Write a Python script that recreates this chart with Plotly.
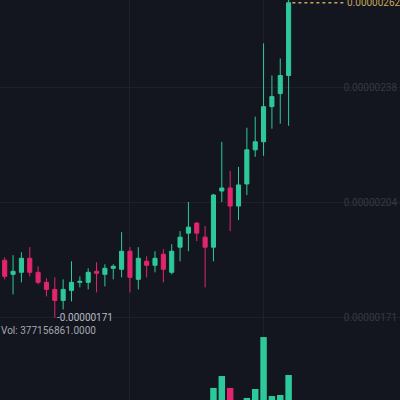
import plotly.graph_objects as go

# candle index (x positions)
idx = list(range(35))

# prices in units of 1e-8
open_ = [187.69, 183.61, 184.20, 188.27, 184.20, 181.28, 179.24, 176.04, 178.95, 181.28,
         181.28, 184.49, 183.61, 185.36, 185.07, 190.31, 182.16, 187.40, 186.23, 189.44,
         184.20, 191.48, 195.56, 198.47, 194.39, 191.48, 207.79, 208.66, 203.42, 209.83,
         219.73, 222.06, 232.26, 236.05, 241.29]
high = [188.56, 189.15, 190.02, 191.48, 185.94, 182.45, 182.74, 182.16, 187.40, 183.03,
        185.36, 187.11, 186.53, 186.53, 195.85, 191.48, 191.48, 188.86, 190.31, 190.89,
        192.35, 196.14, 204.59, 198.76, 197.60, 206.92, 222.06, 213.62, 214.78, 226.14,
        229.35, 250.61, 241.29, 246.24, 264.50]
low = [182.16, 177.79, 181.28, 183.03, 180.70, 177.20, 171.00, 173.42, 175.75, 179.83,
       179.24, 178.37, 180.12, 182.16, 182.74, 178.37, 179.24, 182.74, 184.20, 181.28,
       183.61, 187.40, 190.31, 193.23, 179.83, 187.40, 204.59, 196.14, 199.34, 206.63,
       217.69, 217.99, 225.85, 227.31, 226.70]
close = [183.03, 184.49, 188.27, 184.20, 181.28, 179.24, 176.04, 179.24, 181.28, 181.57,
         184.20, 183.90, 185.36, 185.94, 190.31, 182.74, 188.27, 186.23, 188.27, 185.07,
         190.31, 194.39, 197.30, 195.56, 191.48, 206.63, 208.66, 203.42, 209.54, 219.73,
         222.06, 232.26, 235.17, 241.29, 262.40]

# volumes
volume = [120e6, 95e6, 140e6, 110e6, 90e6, 105e6, 160e6, 130e6, 115e6, 70e6,
          100e6, 125e6, 85e6, 60e6, 175e6, 190e6, 150e6, 80e6, 95e6, 140e6,
          165e6, 150e6, 200e6, 120e6, 180e6, 302e6, 371e6, 302e6, 210e6, 244e6,
          296e6, 597e6, 255e6, 261e6, 377156861]

# price axis ticks
tick_vals = [171.1, 204.4, 237.7]
tick_text = ["0.00000171", "0.00000204", "0.00000238"]

S = 1e-8
o = [v * S for v in open_]
h = [v * S for v in high]
l = [v * S for v in low]
c = [v * S for v in close]

GREEN = "#2ec99a"
RED = "#e2266e"
BG = "#13161e"
GRID = "#1d212a"

vol_colors = [GREEN if cc >= oo else RED for oo, cc in zip(o, c)]

fig = go.Figure()
fig.add_trace(go.Bar(x=idx, y=volume, marker=dict(color=vol_colors, line=dict(width=0)),
                     yaxis="y2", showlegend=False, hoverinfo="skip"))
fig.add_trace(go.Candlestick(
    x=idx, open=o, high=h, low=l, close=c,
    increasing=dict(line=dict(color=GREEN, width=1), fillcolor=GREEN),
    decreasing=dict(line=dict(color=RED, width=1), fillcolor=RED),
    whiskerwidth=0, showlegend=False, hoverinfo="skip"))

low_i = min(range(len(l)), key=lambda i: l[i])
last = c[-1]

fig.update_layout(
    width=400, height=400,
    margin=dict(l=0, r=0, t=0, b=0),
    paper_bgcolor=BG, plot_bgcolor=BG,
    bargap=0.22,
    xaxis=dict(range=[-0.563, 47.34], showticklabels=False, tickvals=[15, 31],
               showgrid=True, gridcolor=GRID, gridwidth=1, zeroline=False,
               rangeslider=dict(visible=False), showline=False, ticks=""),
    yaxis=dict(range=[147.15 * S, 263.2 * S], side="right",
               tickvals=[v * S for v in tick_vals], ticktext=tick_text,
               ticklabelposition="inside", ticks="",
               tickfont=dict(family="Roboto", size=10, color="#353944"),
               showgrid=True, gridcolor=GRID, gridwidth=1, zeroline=False, showline=False),
    yaxis2=dict(range=[232e6, 2552e6], overlaying="y", visible=False, showgrid=False),
    annotations=[
        dict(x=idx[low_i], y=l[low_i], xref="x", yref="y", text="-" + tick_text[0],
             showarrow=False, xanchor="left", yanchor="middle",
             font=dict(family="Roboto", size=10, color="#b6bac2")),
        dict(x=0, y=1 - 330 / 400, xref="paper", yref="paper",
             text="Vol: %.4f" % volume[-1], showarrow=False, xanchor="left", yanchor="middle",
             font=dict(family="Roboto", size=10, color="#a2a6ae"), xshift=-1),
        dict(x=40.75, y=last, xref="x", yref="y", text="0.00000262",
             showarrow=False, xanchor="left", yanchor="middle",
             font=dict(family="Roboto", size=10, color="#c9a65b")),
    ],
    shapes=[dict(type="line", xref="x", yref="y", x0=34.45, x1=40.75, y0=last, y1=last,
                 line=dict(color="#c9a65b", width=1.5, dash="dot"))],
)

fig.write_html("out.html", config={"displayModeBar": False, "staticPlot": True},
               post_script="document.body.style.margin='0';document.body.style.background='%s';" % BG)
